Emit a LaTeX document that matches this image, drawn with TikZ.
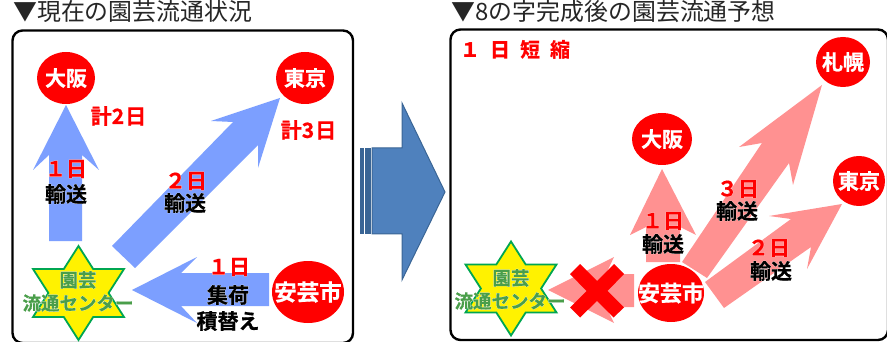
\documentclass[tikz,border=0pt]{standalone}
\usepackage{fontspec}
\setmainfont{Noto Sans CJK JP}
\newfontfamily\halofont[FakeBold=3]{Noto Sans CJK JP Bold}
\newfontfamily\heavyfont[FakeBold=0.7]{Noto Sans CJK JP Bold}
\definecolor{bluearrow}{HTML}{7C9FFF}
\definecolor{pinkarrow}{HTML}{FF9191}
\definecolor{stargreen}{HTML}{00A651}
\definecolor{labelgreen}{HTML}{4A9E4A}
\definecolor{bigfill}{HTML}{4F81BD}
\definecolor{bigline}{HTML}{3A6595}
\newcommand{\halolabel}[2]{\rlap{\color{white}\halofont\fontsize{#1}{#1}\selectfont #2}\heavyfont\fontsize{#1}{#1}\selectfont #2}
\newcommand{\hexpath}{(0,-47) -- (14.7,-24) -- (45.5,-24) -- (30.1,0) -- (45.5,24) -- (14.7,24) -- (0,47) -- (-14.7,24) -- (-45.5,24) -- (-30.1,0) -- (-45.5,-24) -- (-14.7,-24) -- cycle}
\usetikzlibrary{shapes.geometric}
\tikzset{
  panel/.style={draw=black,line width=2.4pt,rounded corners=10pt,fill=white},
  bluearr/.style={fill=bluearrow,draw=none},
  pinkarr/.style={fill=pinkarrow,draw=none},
  city/.style={ellipse,fill=red,draw=none,inner sep=0pt},
  citytext/.style={inner sep=0pt,text=white},
  lab/.style={inner sep=0pt,outer sep=0pt},
  titletext/.style={inner sep=0pt,anchor=west,text=black!85,font=\fontsize{23.9}{24}\selectfont},
  redtext/.style={lab,text=red},
  blacktext/.style={lab,text=black},
  greentext/.style={lab,text=labelgreen},
  starshape/.style={fill=yellow,draw=stargreen,line width=1.8pt,miter limit=10}
}
\begin{document}
\begin{tikzpicture}[x=1pt,y=-1pt]
\useasboundingbox (0,0) rectangle (887,342);
\draw[panel] (12.5,30.5) rectangle (353,343);
\draw[panel] (450.5,29.5) rectangle (888,340);
\node[titletext] (t1) at (13,12) {▼現在の園芸流通状況};
\node[titletext] (t2) at (451.5,11.5) {▼8の字完成後の園芸流通予想};
% big arrow
\draw[fill=bigfill,draw=bigline,line width=1pt] (372,148) -- (402,148) -- (402,103) -- (445,192) -- (402,280) -- (402,234) -- (372,234) -- cycle;
\fill[bigline] (360,148) rectangle (364,234);
\fill[bigline] (365,148) rectangle (371,234);
% left arrows
\fill[bluearr] (66,105) -- (99,170) -- (82,155) -- (82,241) -- (49,241) -- (49,155) -- (33,170) -- cycle;
\fill[bluearr] (112,246) -- (233,122) -- (211,121) -- (280,98) -- (258,168) -- (258,145) -- (135,268) -- cycle;
\fill[bluearr] (132,290) -- (197,257) -- (181,273) -- (269,273) -- (269,306) -- (181,306) -- (197,323) -- cycle;
\node[city,minimum width=58pt,minimum height=52pt] (osaka1) at (66,78) {};
\node[citytext] (osaka1t) at (osaka1) {\heavyfont\fontsize{21}{21}\selectfont 大阪};
\node[city,minimum width=58pt,minimum height=52pt] (tokyo1) at (305,78) {};
\node[citytext] (tokyo1t) at (tokyo1) {\heavyfont\fontsize{21}{21}\selectfont 東京};
\node[city,minimum width=72pt,minimum height=62pt] (aki1) at (308,292) {};
\node[citytext] (aki1t) at (aki1) {\heavyfont\fontsize{22.5}{23}\selectfont 安芸市};
\begin{scope}[shift={(78.5,293)}] \draw[starshape] \hexpath; \end{scope}
\node[greentext] (c1a) at (78,280) {\halolabel{18.5}{園芸}};
\node[greentext] (c1b) at (78,303) {\halolabel{18.5}{流通センター}};
\node[redtext] (k2) at (118.5,116) {\heavyfont\fontsize{21}{21}\selectfont 計2\hspace{1pt}日};
\node[redtext] (k3) at (308.5,130) {\heavyfont\fontsize{21}{21}\selectfont 計3\hspace{1pt}日};
\node[redtext] (a1) at (66,169) {\halolabel{21}{１日}};
\node[blacktext] (a2) at (66,194) {\halolabel{21}{輸送}};
\node[redtext] (b1) at (186,181) {\halolabel{21}{２日}};
\node[blacktext] (b2) at (185,203) {\halolabel{21}{輸送}};
\node[redtext] (d1) at (229,267) {\halolabel{21}{１日}};
\node[blacktext] (d2) at (228,295) {\halolabel{21}{集荷}};
\node[blacktext] (d3) at (228,321) {\halolabel{21}{積替え}};
% right arrows
\fill[pinkarr] (548,290) -- (614,257) -- (606,274) -- (634,274) -- (634,307) -- (606,307) -- (614,323) -- cycle;
\fill[pinkarr] (662,169) -- (696,235) -- (680,227) -- (680,262) -- (646,262) -- (646,227) -- (630,235) -- cycle;
\fill[pinkarr] (682,262) -- (762,143) -- (739,147) -- (822,85) -- (793,185) -- (789,163) -- (707,278) -- cycle;
\fill[pinkarr] (705,282) -- (791,219) -- (769,216) -- (842,204) -- (807,269) -- (811,247) -- (724,308) -- cycle;
\node[city,minimum width=54pt,minimum height=50pt] (sap) at (843,62) {};
\node[citytext] (sapt) at (sap) {\heavyfont\fontsize{21}{21}\selectfont 札幌};
\node[city,minimum width=60pt,minimum height=52pt] (osaka2) at (662,139) {};
\node[citytext] (osaka2t) at (osaka2) {\heavyfont\fontsize{21}{21}\selectfont 大阪};
\node[city,minimum width=52pt,minimum height=50pt] (tokyo2) at (859,181) {};
\node[citytext] (tokyo2t) at (tokyo2) {\heavyfont\fontsize{21}{21}\selectfont 東京};
\node[city,minimum width=66pt,minimum height=58pt] (aki2) at (671,293) {};
\fill[red] (570,274) -- (580,264) -- (597,281) -- (614,264) -- (624,274) -- (607.5,291) -- (624,307.5) -- (613.5,317.5) -- (597,301) -- (580,317.5) -- (570,307.5) -- (586.5,291) -- cycle;
\node[citytext] (aki2t) at (aki2) {\heavyfont\fontsize{22}{22}\selectfont 安芸市};
\begin{scope}[shift={(511,288.5)}] \draw[starshape] \hexpath; \end{scope}
\node[greentext] (c2a) at (511,278) {\halolabel{18.5}{園芸}};
\node[greentext] (c2b) at (510,301) {\halolabel{18.5}{流通センター}};
\node[redtext] (sho) at (515,50) {\fontsize{20}{20}\selectfont\bfseries １\hspace{10pt}日\hspace{10pt}短\hspace{10pt}縮};
\node[redtext] (e1) at (663,221) {\halolabel{21}{１日}};
\node[blacktext] (e2) at (663,244) {\halolabel{21}{輸送}};
\node[redtext] (f1) at (738,189) {\halolabel{21}{３日}};
\node[blacktext] (f2) at (737,211) {\halolabel{21}{輸送}};
\node[redtext] (g1) at (769,248) {\halolabel{21}{２日}};
\node[blacktext] (g2) at (771,271) {\halolabel{21}{輸送}};
\end{tikzpicture}
\end{document}
